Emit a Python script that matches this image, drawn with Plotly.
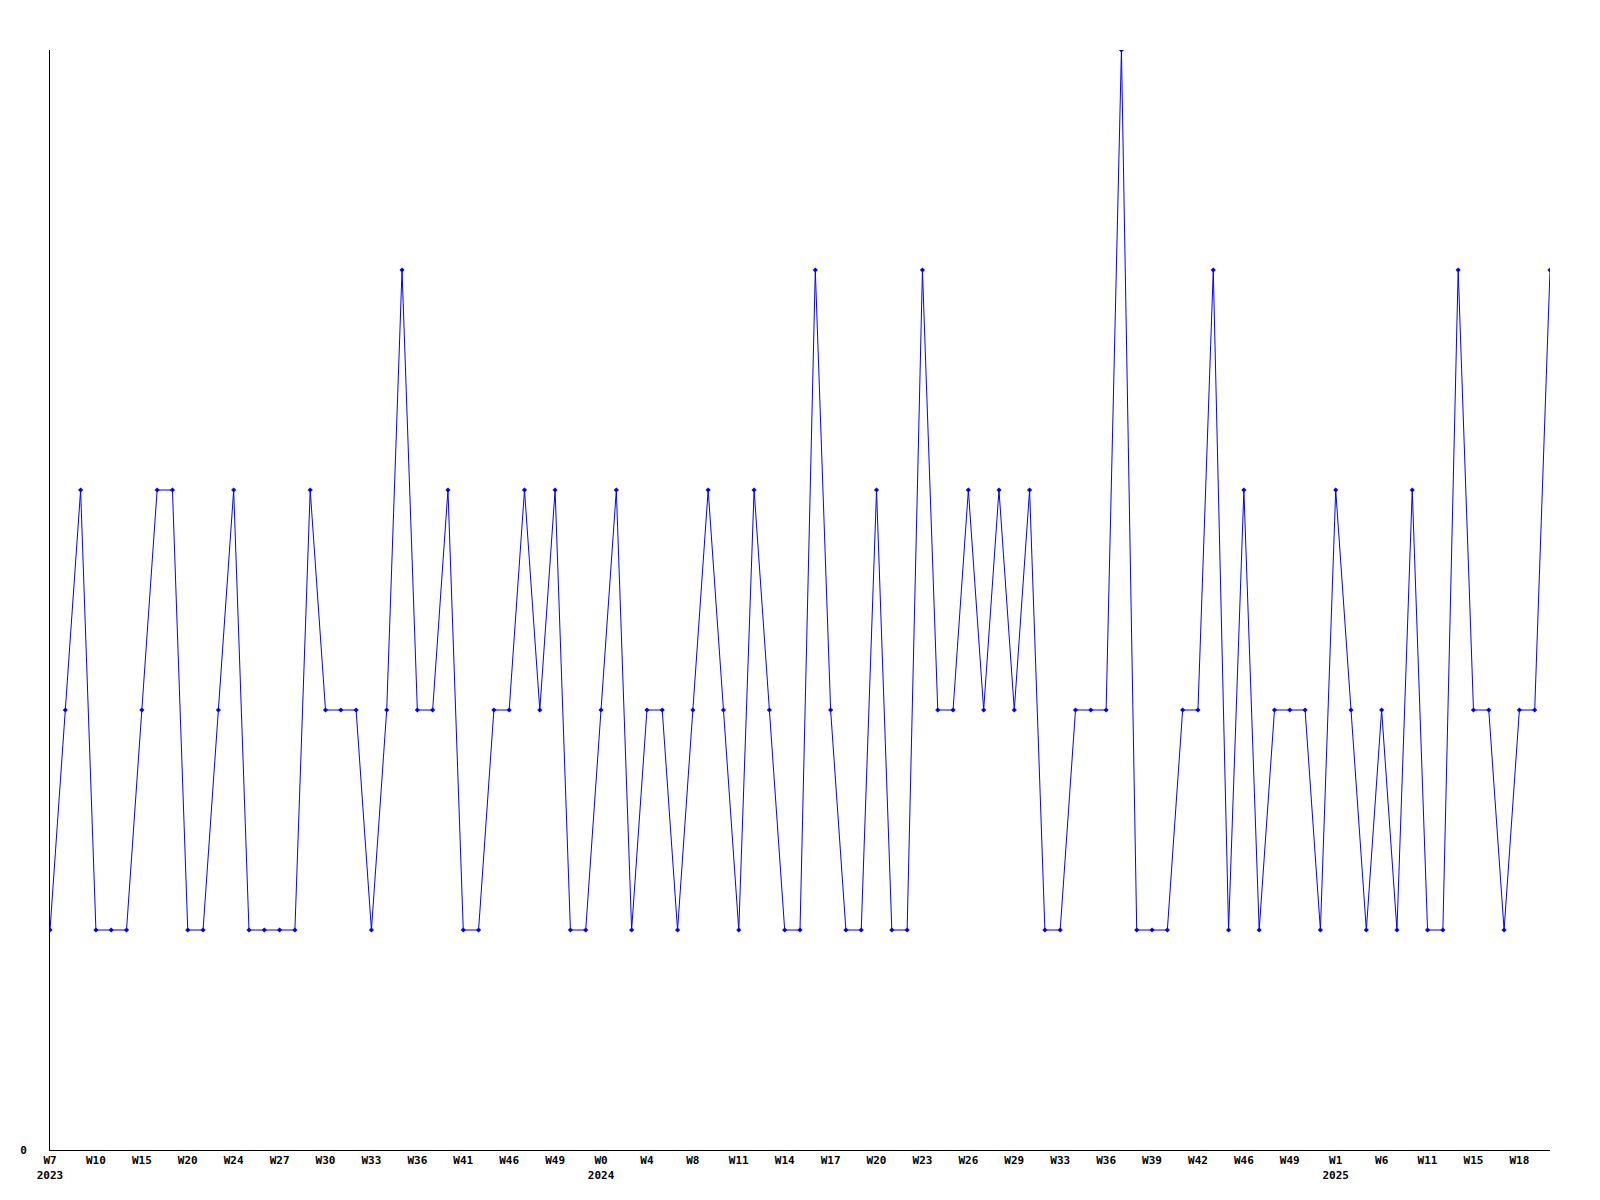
import plotly.graph_objects as go

values = [1, 2, 3, 1, 1, 1, 2, 3, 3, 1,
          1, 2, 3, 1, 1, 1, 1, 3, 2, 2,
          2, 1, 2, 4, 2, 2, 3, 1, 1, 2,
          2, 3, 2, 3, 1, 1, 2, 3, 1, 2,
          2, 1, 2, 3, 2, 1, 3, 2, 1, 1,
          4, 2, 1, 1, 3, 1, 1, 4, 2, 2,
          3, 2, 3, 2, 3, 1, 1, 2, 2, 2,
          5, 1, 1, 1, 2, 2, 4, 1, 3, 1,
          2, 2, 2, 1, 3, 2, 1, 2, 1, 3,
          1, 1, 4, 2, 2, 1, 2, 2, 4]

tick_labels = ["W7<br>2023", "W10", "W15", "W20", "W24", "W27", "W30", "W33", "W36",
               "W41", "W46", "W49", "W0<br>2024", "W4", "W8", "W11", "W14", "W17",
               "W20", "W23", "W26", "W29", "W33", "W36", "W39", "W42", "W46", "W49",
               "W1<br>2025", "W6", "W11", "W15", "W18"]
tick_step = 3

x = list(range(len(values)))
tickvals = [i * tick_step for i in range(len(tick_labels))]
ticktext = ["<b>" + t.replace("<br>", "</b><br><b>") + "</b>" for t in tick_labels]

fig = go.Figure()
fig.add_trace(go.Scatter(
    x=x, y=values, mode="lines+markers",
    line=dict(color="#0000ff", width=1),
    marker=dict(color="#0000ff", size=4, symbol="diamond"),
    hoverinfo="skip",
))

font = dict(family="DejaVu Sans Mono", size=11, color="black")
fig.update_layout(
    width=1600, height=1200,
    margin=dict(l=42, r=58, t=42, b=58),
    plot_bgcolor="white", paper_bgcolor="white",
    showlegend=False,
    font=font,
)
fig.update_xaxes(
    range=[0, len(values) - 1], tickvals=tickvals, ticktext=ticktext,
    showgrid=False, zeroline=False, showline=True, linecolor="black", linewidth=1,
    ticks="", tickfont=font, tickangle=0,
)
fig.update_yaxes(
    range=[0, max(values)], tickvals=[0], ticktext=["<b>0</b>"],
    showgrid=False, zeroline=False, showline=True, linecolor="black", linewidth=1,
    ticks="", tickfont=font, ticklabelstandoff=20,
)
fig.write_html("out.html")
